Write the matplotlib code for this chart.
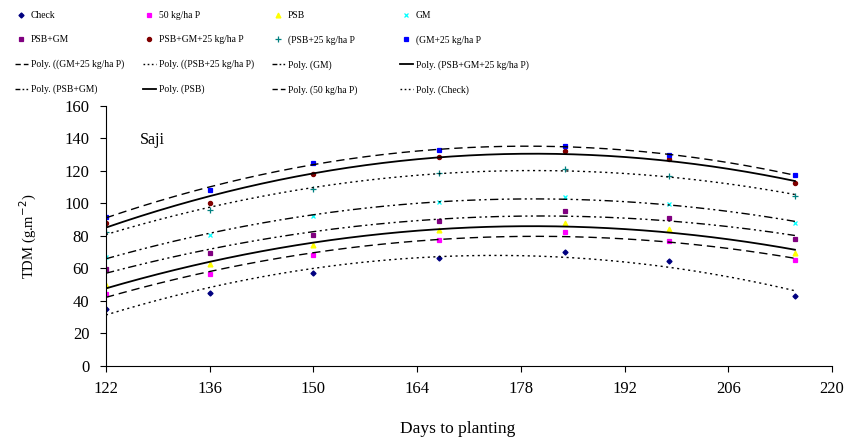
import numpy as np
import matplotlib.pyplot as plt
from matplotlib.lines import Line2D

plt.rcParams['font.family'] = ['Liberation Serif', 'DejaVu Serif']

days = [122, 136, 150, 167, 184, 198, 215]

check = [35.1, 44.7, 57.4, 66.3, 70.0, 64.6, 42.9]
p50 = [44.1, 56.4, 68.1, 77.3, 82.5, 76.7, 65.0]
psb = [49.6, 62.6, 74.2, 83.5, 87.8, 84.1, 69.7]
gm = [67.3, 80.4, 92.0, 100.9, 104.0, 99.9, 88.0]
psb_gm = [59.7, 69.3, 80.9, 89.2, 95.6, 90.9, 78.2]
psb_gm_p25 = [88.2, 100.1, 118.2, 128.8, 132.1, 127.2, 112.4]
psb_p25 = [82.3, 96.0, 109.1, 118.6, 121.2, 116.7, 104.8]
gm_p25 = [91.9, 108.5, 125.1, 132.9, 135.4, 130.1, 117.3]

names = ['Check', '50 kg/ha P', 'PSB', 'GM', 'PSB+GM', 'PSB+GM+25 kg/ha P',
         '(PSB+25 kg/ha P', '(GM+25 kg/ha P']
values = [check, p50, psb, gm, psb_gm, psb_gm_p25, psb_p25, gm_p25]
colors = ['#000080', '#FF00FF', '#FFFF00', '#00FFFF', '#800080', '#800000',
          '#008080', '#0000FF']
markers = ['D', 's', '^', 'x', 's', 'o', '+', 's']
msizes = [2.6, 3.0, 3.5, 3.5, 3.0, 3.0, 4.0, 2.3]

# trend line styles (plot, legend)
long_dash = [(0, (6, 3.5)), (0, (3.8, 2.2))]
dotted = [(0, (1.5, 2.5)), (0, (1.2, 1.8))]
dash_dot_dot = [(0, (6, 2.5, 1.5, 2.5, 1.5, 2.5)), (0, (3.5, 1.6, 1.2, 1.6, 1.2, 1.6))]
solid = ['-', '-']
trend_names = ['Poly. ((GM+25 kg/ha P)', 'Poly. ((PSB+25 kg/ha P)', 'Poly. (GM)',
               'Poly. (PSB+GM+25 kg/ha P)', 'Poly. (PSB+GM)', 'Poly. (PSB)',
               'Poly. (50 kg/ha P)', 'Poly. (Check)']
trend_series = [7, 6, 3, 5, 4, 2, 1, 0]
trend_styles = [long_dash, dotted, dash_dot_dot, solid, dash_dot_dot, solid,
                long_dash, dotted]

fig = plt.figure(figsize=(8.65, 4.38), dpi=100)
ax = fig.add_axes([0.1225, 0.1644, 0.8393, 0.5936])

handles = []
labels = []
for i in range(len(names)):
    h, = ax.plot(days, values[i], linestyle='none', marker=markers[i],
                 markersize=msizes[i], color=colors[i], markeredgewidth=0.9)
    handles.append(h)
    labels.append(names[i])

xs = np.linspace(days[0], days[-1], 200)
for i in range(len(trend_names)):
    coef = np.polyfit(days, values[trend_series[i]], 2)
    lw = 1.3 if trend_styles[i] is solid else 1.0
    ax.plot(xs, np.polyval(coef, xs), color='black', linewidth=lw,
            linestyle=trend_styles[i][0])
    handles.append(Line2D([], [], color='black', linewidth=lw,
                          linestyle=trend_styles[i][1]))
    labels.append(trend_names[i])

ax.set_xlim(122, 220)
ax.set_ylim(0, 160)
ax.set_xticks(range(122, 221, 14))
ax.set_yticks(range(0, 161, 20))
ax.spines['top'].set_visible(False)
ax.spines['right'].set_visible(False)
ax.tick_params(direction='out', length=4, labelsize=12, width=0.8)
ax.tick_params(axis='x', pad=7)
ax.tick_params(axis='y', pad=8)
ax.set_xlabel('Days to planting', fontsize=12.5)
ax.xaxis.set_label_coords(0.485, -0.21)
ax.set_ylabel('TDM (g.m$^{-2}$)', fontsize=10.5, labelpad=18)
ax.text(126.6, 139, 'Saji', fontsize=11.5, va='center')

# one legend per column, entries run across the rows
col_x = [15, 143, 272, 400]
for c in range(4):
    hs = [handles[r * 4 + c] for r in range(4)]
    ls = [labels[r * 4 + c] for r in range(4)]
    fig.legend(hs, ls, loc='upper left',
               bbox_to_anchor=(col_x[c] / 865, 1 - 11 / 438),
               frameon=False, fontsize=6.9, numpoints=1,
               handlelength=1.35, handletextpad=0.3, labelspacing=1.6,
               borderpad=0, borderaxespad=0)

plt.savefig('out.png', dpi=100)
plt.close()
